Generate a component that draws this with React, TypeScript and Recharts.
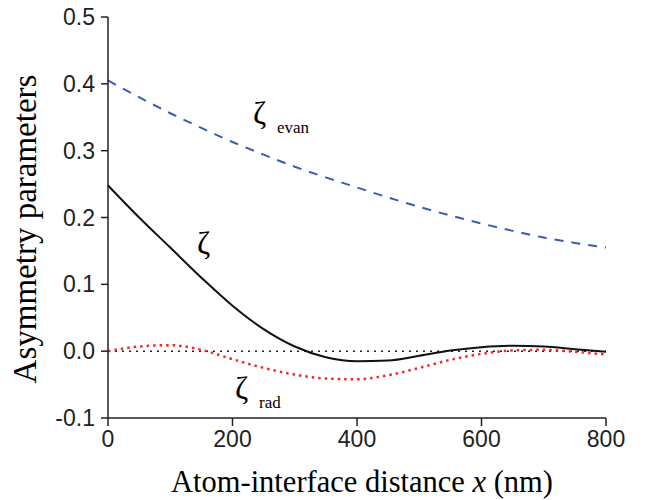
import { LineChart, Line, XAxis, YAxis, ReferenceLine, ReferenceDot, Label } from 'recharts';

// atom-interface distance (nm)
const distances = [0, 50, 100, 150, 200, 250, 300, 350, 400, 450, 500, 550, 600, 650, 700, 750, 800];

// asymmetry parameters
const zetaEvan = [0.405, 0.38, 0.356, 0.334, 0.313, 0.294, 0.276, 0.26, 0.245, 0.23, 0.216, 0.203, 0.191, 0.18, 0.17, 0.162, 0.155];
const zetaTotal = [0.248, 0.2, 0.155, 0.11, 0.068, 0.033, 0.007, -0.009, -0.015, -0.014, -0.007, 0.001, 0.006, 0.008, 0.007, 0.003, -0.001];
const zetaRad = [0, 0.007, 0.009, 0.002, -0.012, -0.025, -0.035, -0.041, -0.042, -0.036, -0.025, -0.013, -0.004, 0.001, 0.002, -0.001, -0.005];

const xTicks = [0, 200, 400, 600, 800];
const yTicks = [-0.1, 0, 0.1, 0.2, 0.3, 0.4, 0.5];

const data = distances.map((x, i) => ({
  x,
  evan: zetaEvan[i],
  total: zetaTotal[i],
  rad: zetaRad[i],
}));

const serif = '"Liberation Serif", "Times New Roman", serif';
const sans = '"Liberation Sans", Arial, sans-serif';

function ZetaLabel({ cx, cy, sub }: { cx?: number; cy?: number; sub?: string }) {
  if (cx == null || cy == null) return null;
  return (
    <g>
      <text x={cx} y={cy} fontFamily={serif} fontSize={32} fill="#000">ζ</text>
      {sub && (
        <text x={cx + 24} y={cy + 9} fontFamily={serif} fontSize={17} fill="#000">{sub}</text>
      )}
    </g>
  );
}

export default function App() {
  return (
    <div style={{ position: 'absolute', left: 0, top: 0, background: '#fff' }}>
      <LineChart width={650} height={500} data={data} margin={{ top: 17, right: 44, bottom: 22, left: 0 }}>
        <XAxis
          dataKey="x"
          type="number"
          domain={[0, 800]}
          ticks={xTicks}
          tickSize={8}
          tickMargin={5}
          stroke="#222"
          strokeWidth={1.5}
          tick={{ fill: '#222', fontSize: 23, fontFamily: sans }}
          height={60}
        >
          <Label
            position="insideBottom"
            offset={0}
            content={() => (
              <text x={362} y={492} textAnchor="middle" fontFamily={serif} fontSize={30.5} fill="#000">
                Atom-interface distance <tspan fontStyle="italic">x</tspan> (nm)
              </text>
            )}
          />
        </XAxis>
        <YAxis
          type="number"
          domain={[-0.1, 0.5]}
          ticks={yTicks}
          tickFormatter={(v: number) => v.toFixed(1)}
          tickSize={7}
          tickMargin={6}
          stroke="#222"
          strokeWidth={1.5}
          tick={{ fill: '#222', fontSize: 23, fontFamily: sans }}
          width={108}
          interval={0}
        >
          <Label
            content={() => (
              <text
                x={36}
                y={229}
                transform="rotate(-90 36 229)"
                textAnchor="middle"
                fontFamily={serif}
                fontSize={33}
                fill="#000"
              >
                Asymmetry parameters
              </text>
            )}
          />
        </YAxis>
        <ReferenceLine y={0} stroke="#222" strokeWidth={1.5} strokeDasharray="2 5" />
        <Line
          type="monotone"
          dataKey="evan"
          stroke="#3a5bb0"
          strokeWidth={2}
          strokeDasharray="9 8"
          dot={false}
          isAnimationActive={false}
        />
        <Line
          type="monotone"
          dataKey="rad"
          stroke="#ee2a2a"
          strokeWidth={2.5}
          strokeDasharray="2.5 4"
          dot={false}
          isAnimationActive={false}
        />
        <Line
          type="monotone"
          dataKey="total"
          stroke="#111"
          strokeWidth={2}
          dot={false}
          isAnimationActive={false}
        />
        <ReferenceDot x={233} y={0.34} r={0} shape={(p: any) => <ZetaLabel cx={p.cx} cy={p.cy} sub="evan" />} />
        <ReferenceDot x={143} y={0.145} r={0} shape={(p: any) => <ZetaLabel cx={p.cx} cy={p.cy} />} />
        <ReferenceDot x={204} y={-0.0715} r={0} shape={(p: any) => <ZetaLabel cx={p.cx} cy={p.cy} sub="rad" />} />
      </LineChart>
    </div>
  );
}
